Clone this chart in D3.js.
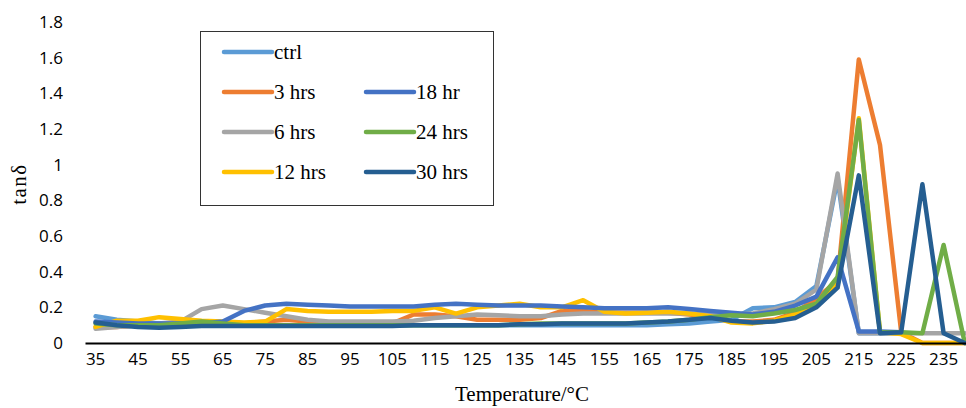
<!DOCTYPE html>
<html>
<head>
  <meta charset="utf-8">
  <title>tan delta vs temperature</title>
  <script src="https://d3js.org/d3.v7.min.js"></script>
  <style>
    body { margin: 0; background: #fff; }
    .axis text { font-family: "Open Sans", sans-serif; font-size: 17px; fill: #000; }
    .title { font-family: "Liberation Serif", "Times New Roman", serif; font-size: 21px; fill: #000; }
    .legend text { font-family: "Liberation Serif", "Times New Roman", serif; font-size: 21px; fill: #000; }
    .line { fill: none; stroke-width: 4.5; stroke-linejoin: round; stroke-linecap: round; }
  </style>
</head>
<body>
  <svg id="chart"></svg>

  <script>
    // Temperatures (every 5 °C)
    const temps = d3.range(35, 241, 5);

    // tan delta per treatment time (null = no reading)
    const ctrl   = [0.15,0.13,0.12,0.11,0.11,0.11,0.10,0.10,0.10,0.10,0.10,0.10,0.10,0.10,0.10,0.10,0.10,0.10,0.10,0.10,0.10,0.10,0.10,0.10,0.10,0.10,0.10,0.105,0.11,0.12,0.13,0.195,0.20,0.23,0.32,0.92,0.055,0.055,0.055,null,null,null];
    const hrs3   = [0.09,0.09,0.10,0.10,0.10,0.10,0.10,0.11,0.12,0.13,0.12,0.11,0.11,0.11,0.11,0.16,0.16,0.15,0.13,0.13,0.13,0.14,0.18,0.18,0.17,0.17,0.17,0.17,0.16,0.15,0.12,0.12,0.13,0.17,0.25,0.35,1.59,1.11,0.06,0,0,0];
    const hrs6   = [0.08,0.09,0.10,0.11,0.12,0.19,0.21,0.19,0.17,0.15,0.13,0.12,0.12,0.12,0.12,0.125,0.14,0.15,0.16,0.155,0.15,0.15,0.16,0.165,0.165,0.165,0.165,0.165,0.165,0.16,0.16,0.165,0.19,0.22,0.30,0.95,0.055,0.055,0.055,0.055,0.055,0.055];
    const hrs12  = [0.09,0.125,0.125,0.145,0.135,0.125,0.12,0.115,0.12,0.19,0.18,0.175,0.175,0.175,0.18,0.18,0.20,0.165,0.20,0.21,0.22,0.20,0.20,0.24,0.175,0.165,0.17,0.175,0.165,0.15,0.115,0.11,0.125,0.16,0.22,0.33,1.26,0.06,0.05,0,0,0];
    const hrs18  = [0.12,0.115,0.11,0.11,0.11,0.11,0.12,0.18,0.21,0.22,0.215,0.21,0.205,0.205,0.205,0.205,0.215,0.22,0.215,0.21,0.21,0.21,0.205,0.20,0.195,0.195,0.195,0.20,0.19,0.18,0.17,0.16,0.175,0.21,0.26,0.48,0.065,0.065,0.06,null,null,null];
    const hrs24  = [0.11,0.10,0.10,0.10,0.11,0.12,0.11,0.10,0.10,0.10,0.10,0.10,0.10,0.10,0.10,0.10,0.10,0.10,0.10,0.10,0.105,0.11,0.11,0.11,0.11,0.11,0.115,0.12,0.13,0.145,0.155,0.15,0.165,0.185,0.22,0.37,1.25,0.06,0.06,0.055,0.55,0];
    const hrs30  = [0.115,0.10,0.09,0.085,0.09,0.095,0.095,0.095,0.095,0.095,0.095,0.095,0.095,0.095,0.095,0.10,0.10,0.10,0.10,0.10,0.105,0.105,0.11,0.11,0.11,0.11,0.115,0.12,0.13,0.14,0.125,0.115,0.12,0.14,0.20,0.31,0.94,0.055,0.06,0.89,0.055,0];

    const names  = ["ctrl", "3 hrs", "6 hrs", "12 hrs", "18 hr", "24 hrs", "30 hrs"];
    const colors = ["#5B9BD5", "#ED7D31", "#A5A5A5", "#FFC000", "#4472C4", "#70AD47", "#255E91"];
    const yTicks = [0, 0.2, 0.4, 0.6, 0.8, 1, 1.2, 1.4, 1.6, 1.8];

    const series = [ctrl, hrs3, hrs6, hrs12, hrs18, hrs24, hrs30].map((v, i) => ({
      name: names[i], color: colors[i], values: v
    }));

    const width = 966;
    const height = 408;

    const svg = d3.select("#chart")
                  .attr("width", width)
                  .attr("height", height);

    // Scales (plot runs past the right edge, as in the reference)
    const xScale = d3.scaleBand()
                     .domain(temps)
                     .range([85, 85 + temps.length * 21.2]);

    const yScale = d3.scaleLinear()
                     .domain([0, 1.8])
                     .range([343, 22]);

    const xPos = t => xScale(t) + xScale.bandwidth() / 2;

    // Y axis (labels only)
    const yAxis = svg.append("g")
                     .attr("class", "axis")
                     .attr("transform", "translate(68,0)")
                     .call(d3.axisLeft(yScale)
                             .tickValues(yTicks)
                             .tickSize(0)
                             .tickPadding(5)
                             .tickFormat(d3.format("")));
    yAxis.select(".domain").remove();

    // Lines
    const line = d3.line()
                   .defined(d => d !== null)
                   .x((d, i) => xPos(temps[i]))
                   .y(d => yScale(d));

    svg.selectAll(".line")
       .data(series)
       .enter()
       .append("path")
       .attr("class", "line")
       .attr("stroke", d => d.color)
       .attr("d", d => line(d.values));

    // X axis
    const xAxis = svg.append("g")
                     .attr("class", "axis")
                     .attr("transform", "translate(0,343)")
                     .call(d3.axisBottom(xScale)
                             .tickValues(temps.filter((t, i) => i % 2 === 0))
                             .tickSize(0)
                             .tickPadding(10));
    xAxis.select(".domain")
         .attr("stroke", "#000")
         .attr("stroke-width", 2);

    // Axis titles
    svg.append("text")
       .attr("class", "title")
       .attr("x", 522)
       .attr("y", 401)
       .attr("text-anchor", "middle")
       .text("Temperature/°C");

    svg.append("text")
       .attr("class", "title")
       .attr("transform", "translate(26,184) rotate(-90)")
       .attr("text-anchor", "middle")
       .style("letter-spacing", "1.5px")
       .text("tanδ");

    // Legend
    const legend = svg.append("g").attr("class", "legend");
    legend.append("rect")
          .attr("x", 200.5).attr("y", 31.5)
          .attr("width", 293).attr("height", 174)
          .attr("fill", "#fff")
          .attr("stroke", "#333")
          .attr("stroke-width", 1);

    const legendPos = [
      [224, 52], [224, 92], [224, 132], [224, 172],
      [366, 92], [366, 132], [366, 172]
    ];

    const items = legend.selectAll(".item")
                        .data(series)
                        .enter()
                        .append("g")
                        .attr("transform", (d, i) => `translate(${legendPos[i][0]},${legendPos[i][1]})`);
    items.append("line")
         .attr("x1", 0).attr("x2", 48)
         .attr("stroke", d => d.color)
         .attr("stroke-width", 4.5)
         .attr("stroke-linecap", "round");
    items.append("text")
         .attr("x", 50)
         .attr("dy", "0.35em")
         .text(d => d.name);
  </script>
</body>
</html>
